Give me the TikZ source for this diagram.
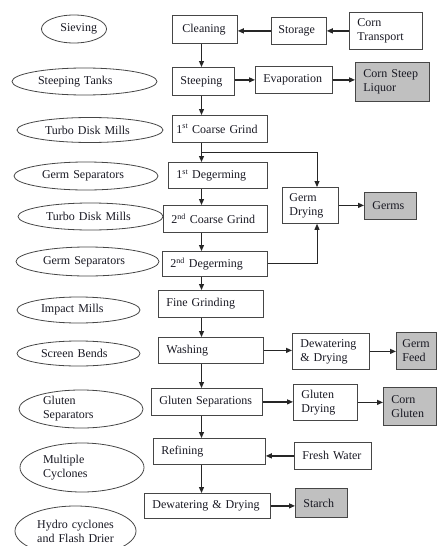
\documentclass[tikz,border=0pt]{standalone}
\usepackage{fontspec}
\setmainfont{Liberation Serif}
\usetikzlibrary{arrows.meta,shapes.geometric}
\definecolor{inkc}{RGB}{25,25,35}
\definecolor{edgec}{RGB}{70,70,70}
\definecolor{prodfill}{RGB}{192,192,192}

% #1 padding, #2 style, #3 name, #4 x, #5 y (top-left), #6 width, #7 height, #8 text
\newcommand\flowbox[8][8]{%
  \pgfmathsetmacro\fbtw{#6-2*#1}%
  \node[#2, anchor=north west, inner xsep=#1pt, text width=\fbtw pt,
        minimum height=#7pt] (#3) at (#4,#5) {#8};}

% #1 name, #2 cx, #3 cy, #4 width, #5 height, #6 align, #7 text width, #8 text
\newcommand\ovalnode[8]{%
  \node[oval, minimum width=#4pt, minimum height=#5pt, align=#6,
        text width=#7pt] (#1) at (#2,#3) {#8};}

\begin{document}
\begin{tikzpicture}[x=1pt, y=-1pt,
  font=\fontsize{12}{14}\selectfont, text=inkc,
  box/.style={draw=edgec, line width=0.8pt, align=left, inner ysep=1pt},
  prod/.style={box, fill=prodfill},
  oval/.style={ellipse, draw=edgec, line width=0.8pt, inner sep=0pt},
  flow/.style={draw=black!85, line width=1.2pt,
    -{Triangle[length=6pt,width=5pt]}},
  thinflow/.style={flow, line width=0.9pt}]

\useasboundingbox (0,0) rectangle (437,546);

% equipment column
\ovalnode{sieve}{74}{29}{64}{28}{right}{46}{Sieving}
\ovalnode{steept}{84.5}{81.5}{145}{27}{left}{93}{Steeping Tanks}
\ovalnode{turboa}{90}{130}{146}{25}{left}{90}{Turbo Disk Mills}
\ovalnode{gsepa}{86}{176}{144}{28}{left}{88}{Germ Separators}
\ovalnode{turbob}{90.5}{216.5}{145}{27}{left}{89}{Turbo Disk Mills}
\ovalnode{gsepb}{87.5}{261.5}{143}{29}{left}{89}{Germ Separators}
\ovalnode{impact}{78.5}{310}{123}{26}{left}{75}{Impact Mills}
\ovalnode{screen}{78.5}{353.5}{123}{25}{left}{75}{Screen Bends}
\ovalnode{glusepm}{81}{409}{124}{38}{left}{76}{Gluten\\Separators}
\ovalnode{multi}{82}{467.5}{124}{49}{left}{78}{Multiple\\Cyclones}
\ovalnode{hydro}{75.5}{531}{121}{50}{center}{80}{Hydro cyclones\\and Flash Drier}

% process steps
\flowbox[10]{box}{cleaning}{172}{15}{65}{28}{Cleaning}
\flowbox[7]{box}{storage}{271}{17}{55}{27}{Storage}
\flowbox{box}{corn}{349}{12}{73}{37}{Corn\\Transport}
\flowbox{box}{steeping}{172}{67}{62}{28}{Steeping}
\flowbox{box}{evap}{255}{66}{77}{27}{Evaporation}
\flowbox{prod}{csl}{355}{62}{74}{39}{Corn Steep\\Liquor}
\flowbox[4]{box}{coarsea}{172}{115}{95}{27}{1\textsuperscript{st} Coarse Grind}
\flowbox{box}{degerma}{168}{162}{99}{26}{1\textsuperscript{st} Degerming}
\flowbox{box}{coarseb}{163}{205}{104}{27}{2\textsuperscript{nd} Coarse Grind}
\flowbox{box}{degermb}{162}{251}{105}{25}{2\textsuperscript{nd} Degerming}
\flowbox[7]{box}{germdry}{282}{187}{56}{36}{Germ\\Drying}
\flowbox{prod}{germs}{364}{192}{52}{27}{Germs}
\flowbox{box}{fine}{158}{290}{105}{27}{Fine Grinding}
\flowbox{box}{washing}{158}{337}{105}{26}{Washing}
\flowbox{box}{dewata}{292}{333}{77}{36}{Dewatering\\\& Drying}
\flowbox[6]{prod}{germfeed}{396}{332}{40}{37}{Germ\\Feed}
\flowbox{box}{glusep}{151}{388}{111}{27}{Gluten Separations}
\flowbox{box}{gludry}{293}{384}{64}{36}{Gluten\\Drying}
\flowbox{prod}{corngl}{383}{387}{53}{38}{Corn\\Gluten}
\flowbox{box}{refining}{153}{438}{112}{26}{Refining}
\flowbox{box}{fresh}{294}{442}{77}{27}{Fresh Water}
\flowbox{box}{dewatb}{144}{493}{126}{25}{Dewatering \& Drying}
\flowbox{prod}{starch}{295}{488}{52}{29}{Starch}

% guide lines for the main column and the germ branch
\coordinate (col) at (201.5,0);
\coordinate (gx) at (317,0);
\coordinate (split) at (201.5,152);

% connectors
\draw[flow] (corn.west) -- (corn.west -| storage.east);
\draw[flow] (storage.west) -- (storage.west -| cleaning.east);
\draw[flow] (cleaning.south -| col) -- (steeping.north -| col);
\draw[flow] (evap.west -| steeping.east) -- (evap.west);
\draw[flow] (evap.east) -- (evap.east -| csl.west);
\draw[flow] (steeping.south -| col) -- (coarsea.north -| col);
\draw[flow] (coarsea.south -| col) -- (degerma.north -| col);
\draw[thinflow] (split) -| (germdry.north -| gx);
\draw[flow] (degerma.south -| col) -- (coarseb.north -| col);
\draw[flow] (coarseb.south -| col) -- (degermb.north -| col);
\draw[thinflow] (degermb.east) -| (germdry.south -| gx);
\draw[flow] (germdry.east) -- (germdry.east -| germs.west);
\draw[flow] (degermb.south -| col) -- (fine.north -| col);
\draw[flow] (fine.south -| col) -- (washing.north -| col);
\draw[flow] (washing.east) -- (washing.east -| dewata.west);
\draw[flow] (dewata.east) -- (dewata.east -| germfeed.west);
\draw[flow] (washing.south -| col) -- (glusep.north -| col);
\draw[flow] (glusep.east) -- (glusep.east -| gludry.west);
\draw[flow] (gludry.east) -- (gludry.east -| corngl.west);
\draw[flow] (glusep.south -| col) -- (refining.north -| col);
\draw[flow] (fresh.west) -- (fresh.west -| refining.east);
\draw[flow] (refining.south -| col) -- (dewatb.north -| col);
\draw[flow] (dewatb.east) -- (dewatb.east -| starch.west);
\end{tikzpicture}
\end{document}
